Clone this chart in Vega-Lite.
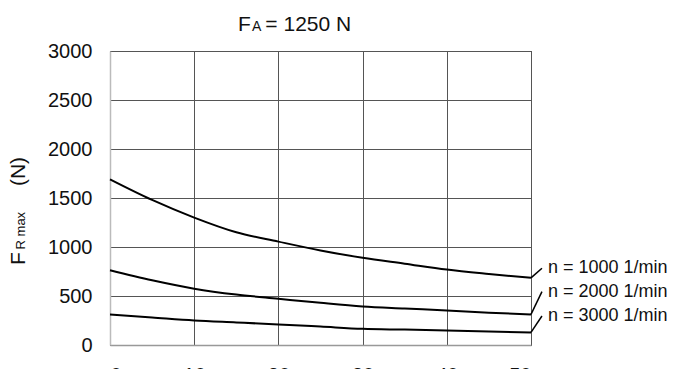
{
  "$schema": "https://vega.github.io/schema/vega-lite/v6.json",
  "autosize": {"type": "none"},
  "padding": {"left": 110, "top": 51, "right": 144, "bottom": 40},
  "width": 421,
  "height": 294,
  "background": "white",
  "config": {
    "font": "Liberation Sans",
    "view": {"stroke": "#222", "strokeWidth": 1},
    "axis": {"labelFont": "Liberation Sans", "labelFontSize": 20, "labelColor": "#111", "gridColor": "#555", "gridWidth": 1, "ticks": false, "title": null}
  },
  "datasets": {
    "curves": [
      {"n": "n = 1000 1/min", "x": 0, "F": 1690},
      {"n": "n = 1000 1/min", "x": 5, "F": 1480},
      {"n": "n = 1000 1/min", "x": 10, "F": 1300},
      {"n": "n = 1000 1/min", "x": 15, "F": 1150},
      {"n": "n = 1000 1/min", "x": 20, "F": 1055},
      {"n": "n = 1000 1/min", "x": 25, "F": 965},
      {"n": "n = 1000 1/min", "x": 30, "F": 890},
      {"n": "n = 1000 1/min", "x": 35, "F": 830},
      {"n": "n = 1000 1/min", "x": 40, "F": 770},
      {"n": "n = 1000 1/min", "x": 45, "F": 725},
      {"n": "n = 1000 1/min", "x": 50, "F": 685},
      {"n": "n = 2000 1/min", "x": 0, "F": 762},
      {"n": "n = 2000 1/min", "x": 5, "F": 660},
      {"n": "n = 2000 1/min", "x": 10, "F": 575},
      {"n": "n = 2000 1/min", "x": 15, "F": 515},
      {"n": "n = 2000 1/min", "x": 20, "F": 472},
      {"n": "n = 2000 1/min", "x": 25, "F": 430},
      {"n": "n = 2000 1/min", "x": 30, "F": 393},
      {"n": "n = 2000 1/min", "x": 35, "F": 372},
      {"n": "n = 2000 1/min", "x": 40, "F": 352},
      {"n": "n = 2000 1/min", "x": 45, "F": 330},
      {"n": "n = 2000 1/min", "x": 50, "F": 312},
      {"n": "n = 3000 1/min", "x": 0, "F": 310},
      {"n": "n = 3000 1/min", "x": 5, "F": 280},
      {"n": "n = 3000 1/min", "x": 10, "F": 250},
      {"n": "n = 3000 1/min", "x": 15, "F": 230},
      {"n": "n = 3000 1/min", "x": 20, "F": 210},
      {"n": "n = 3000 1/min", "x": 25, "F": 188},
      {"n": "n = 3000 1/min", "x": 30, "F": 165},
      {"n": "n = 3000 1/min", "x": 35, "F": 157},
      {"n": "n = 3000 1/min", "x": 40, "F": 148},
      {"n": "n = 3000 1/min", "x": 45, "F": 137},
      {"n": "n = 3000 1/min", "x": 50, "F": 128}
    ],
    "labels": [
      {"n": "n = 1000 1/min", "label_F": 783},
      {"n": "n = 2000 1/min", "label_F": 544},
      {"n": "n = 3000 1/min", "label_F": 296}
    ]
  },
  "layer": [
    {
      "data": {"name": "curves"},
      "mark": {"type": "line", "color": "#000", "strokeWidth": 2, "interpolate": "monotone"},
      "encoding": {
        "x": {"field": "x", "type": "quantitative", "scale": {"domain": [0, 50], "nice": false},
              "axis": {"values": [0, 10, 20, 30, 40, 50], "format": "d", "labelPadding": 20, "domainColor": "#999", "domainWidth": 1.5, "grid": true}},
        "y": {"field": "F", "type": "quantitative", "scale": {"domain": [0, 3000], "nice": false},
              "axis": {"values": [0, 500, 1000, 1500, 2000, 2500, 3000], "format": "d", "labelPadding": 18, "domainColor": "#bbb", "domainWidth": 1.5, "grid": true}},
        "detail": {"field": "n"}
      }
    },
    {
      "data": {"name": "curves"},
      "transform": [
        {"filter": "datum.x == 50"},
        {"lookup": "n", "from": {"data": {"name": "labels"}, "key": "n", "fields": ["label_F"]}}
      ],
      "mark": {"type": "rule", "color": "#000", "strokeWidth": 1.5},
      "encoding": {
        "x": {"field": "x", "type": "quantitative"},
        "y": {"field": "F", "type": "quantitative"},
        "x2": {"datum": 51.3},
        "y2": {"field": "label_F"}
      }
    },
    {
      "data": {"name": "labels"},
      "mark": {"type": "text", "align": "left", "baseline": "middle", "fontSize": 18, "color": "#111", "dx": 6},
      "encoding": {
        "x": {"datum": 51.3, "type": "quantitative"},
        "y": {"field": "label_F", "type": "quantitative"},
        "text": {"field": "n"}
      }
    },
    {
      "data": {"values": [{"t": "F"}]},
      "mark": {"type": "text", "align": "left", "baseline": "alphabetic", "fontSize": 21, "color": "#111"},
      "encoding": {"x": {"datum": 15.2, "type": "quantitative"}, "y": {"datum": 3200, "type": "quantitative"}, "text": {"field": "t"}}
    },
    {
      "data": {"values": [{"t": "A"}]},
      "mark": {"type": "text", "align": "left", "baseline": "alphabetic", "fontSize": 14, "color": "#111"},
      "encoding": {"x": {"datum": 16.85, "type": "quantitative"}, "y": {"datum": 3200, "type": "quantitative"}, "text": {"field": "t"}}
    },
    {
      "data": {"values": [{"t": "= 1250 N"}]},
      "mark": {"type": "text", "align": "left", "baseline": "alphabetic", "fontSize": 21, "color": "#111"},
      "encoding": {"x": {"datum": 18.45, "type": "quantitative"}, "y": {"datum": 3200, "type": "quantitative"}, "text": {"field": "t"}}
    },
    {
      "data": {"values": [{"t": "F"}]},
      "mark": {"type": "text", "align": "left", "baseline": "alphabetic", "angle": 270, "fontSize": 21, "color": "#111"},
      "encoding": {"x": {"datum": -10.1, "type": "quantitative"}, "y": {"datum": 816, "type": "quantitative"}, "text": {"field": "t"}}
    },
    {
      "data": {"values": [{"t": "R max"}]},
      "mark": {"type": "text", "align": "left", "baseline": "alphabetic", "angle": 270, "fontSize": 13, "color": "#111"},
      "encoding": {"x": {"datum": -10.1, "type": "quantitative"}, "y": {"datum": 975, "type": "quantitative"}, "text": {"field": "t"}}
    },
    {
      "data": {"values": [{"t": "(N)"}]},
      "mark": {"type": "text", "align": "left", "baseline": "alphabetic", "angle": 270, "fontSize": 21, "color": "#111"},
      "encoding": {"x": {"datum": -10.1, "type": "quantitative"}, "y": {"datum": 1622, "type": "quantitative"}, "text": {"field": "t"}}
    }
  ]
}
